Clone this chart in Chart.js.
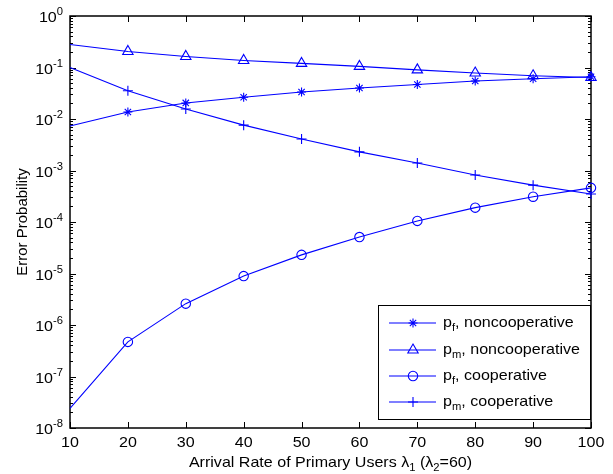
<!DOCTYPE html>
<html>
<head>
<meta charset="utf-8">
<script src="https://cdn.jsdelivr.net/npm/chart.js"></script>
<style>
html,body{margin:0;padding:0;background:#fff;}
#wrap{width:613px;height:474px;}
</style>
</head>
<body>
<div id="wrap"><canvas id="c" width="613" height="474"></canvas></div>
<script>
// ---- data ----
const arrivalRate = [10, 20, 30, 40, 50, 60, 70, 80, 90, 100];
const pfNoncoop = [0.0073, 0.0137, 0.0205, 0.0264, 0.0334, 0.040, 0.0468, 0.0547, 0.0606, 0.066];
const pmNoncoop = [0.28, 0.205, 0.164, 0.137, 0.120, 0.105, 0.090, 0.078, 0.069, 0.064];
const pfCoop = [2.4e-8, 4.7e-7, 2.6e-6, 8.9e-6, 2.3e-5, 5.1e-5, 1.05e-4, 1.9e-4, 3.1e-4, 4.6e-4];
const pmCoop = [0.1, 0.0354, 0.0156, 0.0076, 0.0041, 0.0023, 0.0014, 0.00082, 0.00052, 0.00035];
const xTickLabels = ['10', '20', '30', '40', '50', '60', '70', '80', '90', '100'];
const yTickExponents = [0, -1, -2, -3, -4, -5, -6, -7, -8];
const seriesNames = ['noncooperative', 'noncooperative', 'cooperative', 'cooperative'];
const seriesSubs = ['f', 'm', 'f', 'm'];

const BLUE = '#0000ff';
const FONT = '"Liberation Sans", Arial, Helvetica, sans-serif';
const HS = 1.07; // horizontal text stretch seen in the reference

function toXY(vals) { return arrivalRate.map((x, i) => ({ x: x, y: vals[i] })); }
function radii(r) { return arrivalRate.map((x, i) => i === 0 ? 0 : r); }

const styles = [
  { style: 'star', r: 4.5 },
  { style: 'triangle', r: 6 },
  { style: 'circle', r: 4.7 },
  { style: 'cross', r: 5 }
];
const seriesVals = [pfNoncoop, pmNoncoop, pfCoop, pmCoop];

const datasets = seriesVals.map((v, i) => ({
  label: 'p' + seriesSubs[i] + ', ' + seriesNames[i],
  data: toXY(v),
  borderColor: BLUE,
  borderWidth: 1.1,
  backgroundColor: 'rgba(0,0,0,0)',
  pointStyle: styles[i].style,
  pointRadius: radii(styles[i].r),
  pointBorderColor: BLUE,
  pointBackgroundColor: 'rgba(0,0,0,0)',
  pointBorderWidth: 1.1,
  tension: 0,
  fill: false,
  clip: false,
  order: 4 - i
}));

function richText(ctx, segs, x, y, align) {
  let total = 0;
  segs.forEach(s => { ctx.font = s.size + 'px ' + FONT; s.w = ctx.measureText(s.t).width; total += s.w; });
  const tw = total * HS;
  const x0 = align === 'right' ? x - tw : (align === 'center' ? x - tw / 2 : x);
  ctx.save();
  ctx.translate(x0, y);
  ctx.scale(HS, 1);
  ctx.textAlign = 'left';
  ctx.textBaseline = 'alphabetic';
  let cx = 0;
  segs.forEach(s => { ctx.font = s.size + 'px ' + FONT; ctx.fillText(s.t, cx, (s.dy || 0)); cx += s.w; });
  ctx.restore();
}

const decor = {
  id: 'decor',
  beforeDatasetsDraw(chart) {
    const ctx = chart.ctx, a = chart.chartArea;
    const xs = chart.scales.x, ys = chart.scales.y;
    ctx.save();
    ctx.strokeStyle = '#000';
    ctx.lineWidth = 1;
    ctx.beginPath();
    arrivalRate.forEach(v => {
      const px = Math.round(xs.getPixelForValue(v)) + 0.5;
      ctx.moveTo(px, a.bottom); ctx.lineTo(px, a.bottom - 6);
      ctx.moveTo(px, a.top); ctx.lineTo(px, a.top + 6);
    });
    yTickExponents.forEach(e => {
      const py = Math.round(ys.getPixelForValue(Math.pow(10, e))) + 0.5;
      ctx.moveTo(a.left, py); ctx.lineTo(a.left + 6, py);
      ctx.moveTo(a.right, py); ctx.lineTo(a.right - 6, py);
      if (e > -8) {
        for (let m = 2; m <= 9; m++) {
          const pm = Math.round(ys.getPixelForValue(m * Math.pow(10, e - 1))) + 0.5;
          ctx.moveTo(a.left, pm); ctx.lineTo(a.left + 3, pm);
          ctx.moveTo(a.right, pm); ctx.lineTo(a.right - 3, pm);
        }
      }
    });
    ctx.stroke();
    ctx.lineWidth = 1.5;
    ctx.strokeRect(a.left, a.top, a.right - a.left, a.bottom - a.top);
    ctx.restore();
  },
  afterDraw(chart) {
    const ctx = chart.ctx, a = chart.chartArea;
    const xs = chart.scales.x, ys = chart.scales.y;
    ctx.save();
    ctx.fillStyle = '#000';
    // x tick labels
    arrivalRate.forEach((v, i) => {
      richText(ctx, [{ t: xTickLabels[i], size: 15 }], xs.getPixelForValue(v), a.bottom + 19, 'center');
    });
    // y tick labels 10^e
    yTickExponents.forEach(e => {
      const py = ys.getPixelForValue(Math.pow(10, e));
      richText(ctx, [
        { t: '10', size: 15, dy: 0 },
        { t: (e < 0 ? '-' : '') + Math.abs(e), size: 10.5, dy: -7 }
      ], 63, py + 6, 'right');
    });
    // x title
    richText(ctx, [
      { t: 'Arrival Rate of Primary Users \u03bb', size: 15 },
      { t: '1', size: 10.5, dy: 4 },
      { t: ' (\u03bb', size: 15 },
      { t: '2', size: 10.5, dy: 4 },
      { t: '=60)', size: 15 }
    ], (a.left + a.right) / 2, 467, 'center');
    // y title
    ctx.save();
    ctx.translate(27, (a.top + a.bottom) / 2);
    ctx.rotate(-Math.PI / 2);
    ctx.font = '15px ' + FONT;
    ctx.textAlign = 'center';
    ctx.textBaseline = 'alphabetic';
    ctx.fillText('Error Probability', 0, 0);
    ctx.restore();
    // legend
    const L = 378.5, T = 305.5, R = 590.5, B = 419.5;
    ctx.fillStyle = '#fff';
    ctx.fillRect(L, T, R - L, B - T);
    ctx.strokeStyle = '#000';
    ctx.lineWidth = 1;
    ctx.strokeRect(L, T, R - L, B - T);
    const rows = [323, 350, 376, 402];
    rows.forEach((ry, i) => {
      ctx.strokeStyle = BLUE;
      ctx.lineWidth = 1.1;
      ctx.beginPath();
      ctx.moveTo(389, ry); ctx.lineTo(436, ry);
      ctx.stroke();
      ctx.fillStyle = 'rgba(0,0,0,0)';
      Chart.helpers.drawPoint(ctx, { pointStyle: styles[i].style, rotation: 0, radius: styles[i].r, borderWidth: 1.1 }, 413, ry);
      ctx.fillStyle = '#000';
      richText(ctx, [
        { t: 'p', size: 15 },
        { t: seriesSubs[i], size: 10.5, dy: 4 },
        { t: ', ' + seriesNames[i], size: 15 }
      ], 443, ry + 4, 'left');
    });
    ctx.restore();
  }
};

new Chart(document.getElementById('c'), {
  type: 'line',
  data: { datasets: datasets },
  options: {
    responsive: false,
    animation: false,
    layout: { padding: { top: 16, right: 22, left: 0, bottom: 0 } },
    plugins: { legend: { display: false }, tooltip: { enabled: false } },
    scales: {
      x: {
        type: 'linear', min: 10, max: 100,
        ticks: { display: false },
        grid: { display: false, drawTicks: false },
        border: { display: false },
        afterFit: s => { s.height = 46; }
      },
      y: {
        type: 'logarithmic', min: 1e-8, max: 1,
        ticks: { display: false },
        grid: { display: false, drawTicks: false },
        border: { display: false },
        afterFit: s => { s.width = 70; }
      }
    }
  },
  plugins: [decor]
});
</script>
</body>
</html>
